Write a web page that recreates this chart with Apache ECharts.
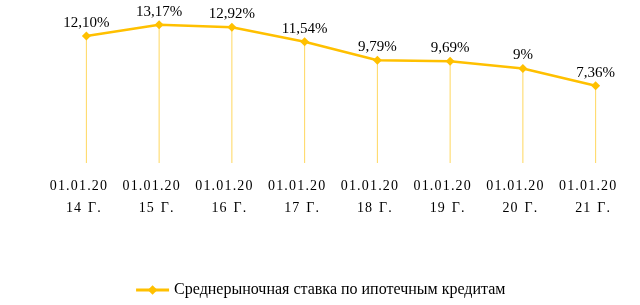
<!DOCTYPE html>
<html><head><meta charset="utf-8">
<script src="https://cdn.jsdelivr.net/npm/echarts@6/dist/echarts.min.js"></script>
<style>html,body{margin:0;padding:0;background:#fff}#c{width:640px;height:305px}</style>
</head><body><div id="c"></div>
<script>
const categories = ["01.01.2014 г.","01.01.2015 г.","01.01.2016 г.","01.01.2017 г.","01.01.2018 г.","01.01.2019 г.","01.01.2020 г.","01.01.2021 г."];
const values = [12.10, 13.17, 12.92, 11.54, 9.79, 9.69, 9.00, 7.36];
const valueLabels = ["12,10%","13,17%","12,92%","11,54%","9,79%","9,69%","9%","7,36%"];
const seriesName = "Среднерыночная ставка по ипотечным кредитам";

function fmtCat(s){
  const first = s.slice(0,8).split('').join('\u200A');
  const yr = s.slice(8, 10).split('').join('\u200A');
  const g = s.slice(11).replace('г.','Г.').split('').join('\u200A');
  return '{a|' + first + '}\n{b|' + yr + '\u2002' + g + '}';
}
const chart = echarts.init(document.getElementById('c'), null, {renderer:'canvas'});
chart.setOption({
  animation:false,
  textStyle:{fontFamily:'Liberation Serif'},
  grid:{left:50, right:8, top:16, height:147},
  xAxis:{type:'category', data:categories, boundaryGap:true,
    axisLine:{show:false}, axisTick:{show:false},
    axisLabel:{formatter:fmtCat, color:'#000', fontSize:14, lineHeight:22, margin:12, padding:[0,6,0,0], fontFamily:'Liberation Serif', interval:0,
      rich:{
        a:{fontSize:14, lineHeight:22, color:'#000', fontFamily:'Liberation Serif', padding:[0,10,0,0]},
        b:{fontSize:14, lineHeight:22, color:'#000', fontFamily:'Liberation Serif'}
      }}},
  yAxis:{type:'value', min:0, max:14, show:false, splitLine:{show:false}},
  legend:{bottom:2, left:'center', itemWidth:33, itemHeight:12,
    data:[{name:seriesName}],
    lineStyle:{width:3},
    textStyle:{color:'#000', fontSize:16, fontFamily:'Liberation Serif'}},
  series:[
    {type:'bar', data:values, barWidth:1, silent:true, itemStyle:{color:'#FFD75E'}, z:1, legendHoverLink:false},
    {name:seriesName, type:'line', data:values, symbol:'diamond', symbolSize:9, z:3,
     lineStyle:{color:'#FFC000', width:2.5}, itemStyle:{color:'#FFC000'},
     label:{show:true, position:'top', distance:1, fontSize:15, color:'#000', fontFamily:'Liberation Serif',
       formatter:p=>valueLabels[p.dataIndex]}}
  ]
});
</script></body></html>
